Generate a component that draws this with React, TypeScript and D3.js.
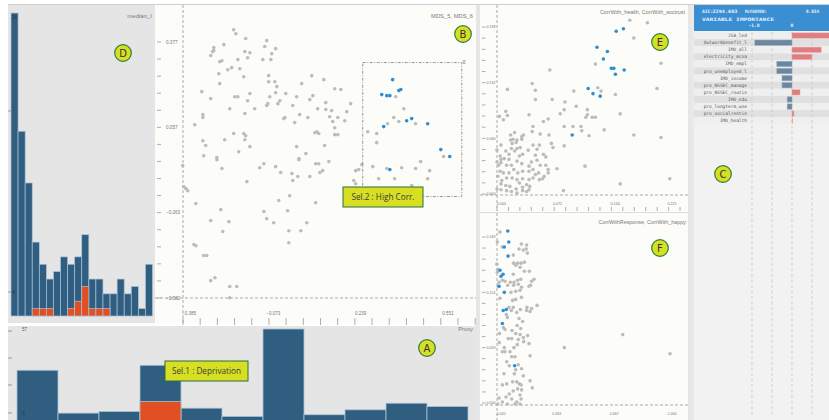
import React from "react";
import * as d3 from "d3";

const W = 829;
const H = 420;

// D: median_I histogram, 20 bins (all areas / current selection)
const medianCounts = [41, 25, 18, 10, 7, 5, 6, 8, 7, 8, 11, 5, 5, 3, 3, 5, 3, 4, 1, 7];
const medianSelected = [0, 0, 0, 1, 1, 1, 0, 0, 1, 2, 4, 1, 1, 1, 0, 0, 0, 0, 0, 0];
const medianAxisLabels = ["28", "4"];

// A: Proxy histogram, 11 bins
const proxyCounts = [32, 6, 7, 35, 9, 4, 57, 5, 8, 12, 10];
const proxySelected = [0, 0, 0, 13, 0, 0, 0, 0, 0, 0, 0];
const proxyAxisLabels = ["57", "6"];

// C: variable importance
const varNames = [
  "JSA_led", "Outworkbenefit_l", "IMD_all", "electricity_mcoa", "IMD_empl",
  "pro_unemployed_l", "IMD_income", "pro_NSSEC_manage", "pro_NSSEC_routin",
  "IMD_edu", "pro_longterm_une", "pro_socialrentin", "IMD_health",
];
const varImportance = [1.05, -0.93, 0.73, 0.5, -0.38, -0.38, -0.25, -0.25, 0.2, -0.12, -0.12, 0.05, 0.01];
const importanceGrid = [-1, -0.5, 0, 0.5];

// B: MDS_5, MDS_6
const mdsTicksX = [-0.385, -0.073, 0.239, 0.551];
const mdsTicksY = [0.377, 0.057, -0.263, -0.582];
const mdsBrush = [[0.257, 0.300], [0.611, -0.202]];
const mdsSel = [
  [0.364, 0.236], [0.325, 0.180], [0.343, 0.176], [0.354, 0.176], [0.386, 0.195], [0.393, 0.199],
  [0.332, 0.060], [0.414, 0.082], [0.432, 0.090], [0.489, 0.071], [0.536, -0.026], [0.568, -0.052], [0.354, -0.101],
];
const mdsGray = [
  [-0.204, 0.423], [-0.196, 0.408], [-0.161, 0.390], [-0.086, 0.382], [-0.239, 0.367], [-0.275, 0.356], [-0.275, 0.345],
  [-0.279, 0.341], [-0.286, 0.326], [-0.164, 0.341], [-0.146, 0.337], [-0.093, 0.360], [-0.054, 0.352], [-0.068, 0.333],
  [-0.246, 0.307], [-0.254, 0.303], [-0.189, 0.311], [-0.154, 0.318], [-0.100, 0.311], [-0.071, 0.311], [-0.257, 0.258],
  [-0.225, 0.273], [-0.211, 0.281], [-0.182, 0.277], [-0.168, 0.247], [-0.254, 0.221], [-0.318, 0.191], [-0.079, 0.251],
  [-0.079, 0.228], [-0.057, 0.228], [-0.050, 0.210], [0.039, 0.221], [0.118, 0.236], [0.075, 0.251], [-0.200, 0.172],
  [-0.189, 0.172], [-0.146, 0.184], [-0.154, 0.157], [-0.286, 0.165], [-0.054, 0.187], [-0.018, 0.184], [-0.075, 0.172],
  [-0.039, 0.157], [-0.046, 0.146], [-0.082, 0.146], [-0.086, 0.139], [0.021, 0.172], [0.068, 0.161], [0.079, 0.176],
  [0.007, 0.139], [0.157, 0.202], [0.179, 0.199], [0.125, 0.150], [0.214, 0.146], [-0.218, 0.127], [-0.164, 0.109],
  [-0.129, 0.127], [0.096, 0.127], [0.125, 0.124], [0.146, 0.120], [0.200, 0.116], [-0.314, 0.105], [-0.314, 0.094],
  [-0.343, 0.067], [-0.021, 0.094], [-0.025, 0.090], [0.032, 0.105], [0.061, 0.094], [0.139, 0.097], [0.168, 0.094],
  [0.150, 0.079], [0.193, 0.082], [0.157, 0.056], [0.014, 0.075], [-0.204, 0.034], [-0.168, 0.034], [-0.161, 0.026],
  [-0.164, 0.011], [-0.236, 0.011], [0.086, 0.037], [0.093, 0.041], [0.100, 0.034], [0.157, 0.030], [0.168, 0.030],
  [-0.314, 0.007], [-0.304, -0.011], [-0.146, -0.015], [-0.186, -0.034], [0.021, -0.015], [0.121, -0.011], [0.054, -0.041],
  [-0.311, -0.049], [-0.264, -0.056], [0.029, -0.060],
  [0.375, 0.172], [0.404, 0.127], [0.368, 0.094], [0.386, 0.079], [0.346, 0.071], [0.446, 0.071], [0.275, 0.041],
  [0.307, 0.034], [0.307, 0.000], [0.546, -0.052],
  [-0.386, -0.086], [-0.264, -0.064], [-0.246, -0.097], [-0.111, -0.094], [-0.096, -0.079], [-0.054, -0.090], [0.029, -0.064],
  [0.089, -0.079], [0.100, -0.079], [0.136, -0.071], [-0.036, -0.112], [0.004, -0.116], [0.025, -0.127], [0.007, -0.142],
  [0.068, -0.127], [0.104, -0.112], [0.114, -0.105], [0.232, -0.105], [0.243, -0.101], [0.254, -0.082], [-0.157, -0.146],
  [-0.382, -0.165], [-0.375, -0.172], [-0.368, -0.180], [0.225, -0.142], [0.232, -0.154], [-0.004, -0.199], [-0.043, -0.217],
  [0.089, -0.225], [-0.339, -0.228], [-0.250, -0.251], [-0.011, -0.255], [-0.096, -0.258], [-0.086, -0.285], [-0.061, -0.300],
  [-0.286, -0.292], [-0.221, -0.296], [0.057, -0.300], [-0.243, -0.333], [-0.007, -0.330], [0.036, -0.330], [-0.007, -0.375],
  [-0.346, -0.382], [-0.339, -0.386], [-0.311, -0.423], [-0.300, -0.423], [-0.271, -0.506], [-0.286, -0.517], [-0.218, -0.539],
  [-0.193, -0.539], [-0.218, -0.581],
  [0.293, -0.090], [0.343, -0.097], [0.396, -0.094], [0.446, -0.097], [0.496, -0.105], [0.464, -0.071], [0.314, -0.135],
  [0.371, -0.135], [0.432, -0.161], [0.489, -0.135],
];

// E: CorrWith_health, CorrWith_soctrust
const healthTicksX = [0, 0.072, 0.144, 0.215];
const healthTicksY = [0.198, 0.132, 0.066, 0];
const healthSel = [
  [0.149, 0.193], [0.158, 0.196], [0.125, 0.174], [0.138, 0.169], [0.133, 0.160], [0.143, 0.149], [0.146, 0.149],
  [0.159, 0.147], [0.148, 0.142], [0.114, 0.125], [0.120, 0.119], [0.129, 0.116], [0.094, 0.070],
];
const healthGray = [
  [0.166, 0.206], [0.188, 0.203], [0.171, 0.185], [0.205, 0.155], [0.200, 0.125], [0.171, 0.070], [0.205, 0.067],
  [0.216, 0.018], [0.154, 0.012], [0.154, 0.095], [0.148, 0.118], [0.123, 0.154], [0.130, 0.122], [0.126, 0.126],
  [0.110, 0.033], [0.083, 0.004], [0.134, 0.076], [0.066, 0.147], [0.044, 0.131], [0.048, 0.123], [0.013, 0.124],
  [0.048, 0.112], [0.069, 0.112], [0.096, 0.122], [0.085, 0.109], [0.099, 0.104], [0.113, 0.100], [0.113, 0.094],
  [0.111, 0.091], [0.119, 0.091], [0.123, 0.091], [0.079, 0.095], [0.084, 0.100], [0.040, 0.094], [0.013, 0.093],
  [0.011, 0.098], [0.003, 0.092], [0.008, 0.088], [0.064, 0.089], [0.058, 0.086], [0.084, 0.080], [0.095, 0.080],
  [0.105, 0.080], [0.106, 0.075], [0.044, 0.074], [0.065, 0.070], [0.115, 0.069], [0.084, 0.057], [0.075, 0.030],
  [0.070, 0.055], [0.068, 0.060],
  [0.033, 0.070], [0.031, 0.068], [0.020, 0.065], [0.025, 0.064], [0.017, 0.064], [0.019, 0.060], [0.024, 0.061],
  [0.005, 0.058], [0.029, 0.055], [0.018, 0.054], [0.025, 0.054], [0.011, 0.051], [0.022, 0.051], [0.045, 0.058],
  [0.053, 0.058], [0.039, 0.052], [0.048, 0.046], [0.058, 0.047], [0.061, 0.044], [0.032, 0.047], [0.028, 0.045],
  [0.015, 0.047], [0.004, 0.045], [0.000, 0.052], [0.000, 0.038], [0.005, 0.037], [0.012, 0.034], [0.002, 0.034],
  [0.018, 0.034], [0.015, 0.041], [0.009, 0.042], [0.005, 0.041], [0.025, 0.039], [0.031, 0.036], [0.043, 0.038],
  [0.040, 0.033], [0.050, 0.040], [0.054, 0.034], [0.061, 0.034], [0.064, 0.029], [0.064, 0.025], [0.052, 0.025],
  [0.045, 0.029], [0.040, 0.027], [0.032, 0.027], [0.026, 0.025], [0.021, 0.029], [0.015, 0.025], [0.008, 0.025],
  [0.004, 0.027], [0.001, 0.021], [0.006, 0.016], [0.012, 0.019], [0.019, 0.019], [0.025, 0.017], [0.028, 0.013],
  [0.032, 0.018], [0.040, 0.017], [0.045, 0.019], [0.053, 0.017], [0.057, 0.018], [0.048, 0.023], [0.059, 0.021],
  [0.037, 0.011], [0.041, 0.009], [0.032, 0.008], [0.024, 0.006], [0.016, 0.009], [0.011, 0.010], [0.005, 0.012],
  [0.000, 0.006], [0.005, 0.005], [0.012, 0.004], [0.018, 0.003], [0.025, 0.001], [0.032, 0.004], [0.040, 0.005],
  [0.037, 0.003], [0.022, 0.073], [0.017, 0.070], [0.031, 0.065], [0.054, 0.071], [0.050, 0.053], [0.045, 0.080],
];

// F: CorrWithResponse, CorrWith_happy
const happyTicksX = [0.001, 0.334, 0.667, 1.0];
const happyTicksY = [0.169, 0.114, 0.059, 0.004];
const happySel = [
  [0.063, 0.175], [0.069, 0.164], [0.043, 0.159], [0.065, 0.150], [0.018, 0.136], [0.036, 0.132], [0.024, 0.130],
  [0.013, 0.120], [0.043, 0.114], [0.037, 0.096], [0.055, 0.097], [0.032, 0.083], [0.103, 0.041],
];
const happyGray = [
  [0.390, 0.059], [0.727, 0.072], [1.0, 0.053],
  [0.018, 0.174], [0.003, 0.164], [0.032, 0.159], [0.142, 0.162], [0.172, 0.161], [0.128, 0.157], [0.153, 0.156],
  [0.170, 0.157], [0.176, 0.153], [0.095, 0.151], [0.000, 0.142], [0.005, 0.137], [0.003, 0.134], [0.097, 0.143],
  [0.120, 0.143], [0.140, 0.143], [0.159, 0.144], [0.109, 0.141], [0.134, 0.139], [0.188, 0.135], [0.159, 0.135],
  [0.095, 0.132], [0.032, 0.126], [0.013, 0.124], [0.047, 0.125], [0.078, 0.124], [0.099, 0.124], [0.120, 0.126],
  [0.138, 0.127], [0.215, 0.127], [0.201, 0.125], [0.063, 0.121], [0.097, 0.121], [0.124, 0.122], [0.143, 0.119],
  [0.186, 0.120], [0.195, 0.121], [0.009, 0.120], [0.082, 0.114], [0.109, 0.115], [0.134, 0.116], [0.018, 0.108],
  [0.091, 0.106], [0.109, 0.107], [0.142, 0.109], [0.232, 0.101], [0.174, 0.099], [0.201, 0.098], [0.192, 0.095],
  [0.172, 0.096], [0.136, 0.097], [0.115, 0.094], [0.095, 0.099], [0.070, 0.099], [0.084, 0.096], [0.128, 0.088],
  [0.149, 0.085], [0.061, 0.089], [0.055, 0.092], [0.038, 0.079], [0.117, 0.081], [0.138, 0.078], [0.047, 0.077],
  [0.088, 0.076], [0.109, 0.073], [0.016, 0.073], [0.066, 0.068], [0.086, 0.068], [0.134, 0.072], [0.178, 0.071],
  [0.153, 0.069], [0.124, 0.067], [0.155, 0.065], [0.118, 0.062], [0.043, 0.059], [0.014, 0.064], [0.186, 0.063],
  [0.099, 0.059], [0.032, 0.055], [0.047, 0.055], [0.076, 0.055], [0.086, 0.050], [0.105, 0.050], [0.192, 0.051],
  [0.124, 0.042], [0.057, 0.045], [0.072, 0.041], [0.143, 0.038], [0.109, 0.037], [0.101, 0.033], [0.041, 0.033],
  [0.153, 0.031], [0.115, 0.025], [0.091, 0.025], [0.130, 0.023], [0.140, 0.022], [0.192, 0.026], [0.032, 0.022],
  [0.057, 0.023], [0.205, 0.019], [0.120, 0.018], [0.143, 0.017], [0.095, 0.016], [0.134, 0.012], [0.072, 0.013],
  [0.053, 0.010], [0.086, 0.008], [0.115, 0.005], [0.140, 0.008], [0.061, 0.003], [0.032, 0.005], [0.013, 0.009],
  [0.105, 0.003], [0.005, 0.003], [0.134, 0.003],
];

const BLUE_BAR = "#2f5e80";
const ORANGE = "#e24f22";
const PT_GRAY = "#bcbcbc";
const PT_BLUE = "#2b8fd8";
const CREAM = "#fcfcf8";
const PANEL = "#e5e5e5";
const LABEL = "#7a7a7a";
const FONT = "'Liberation Sans', Arial, sans-serif";

function Badge({ x, y, t }: { x: number; y: number; t: string }) {
  return (
    <g>
      <circle cx={x} cy={y} r={8.3} fill="#d6df22" stroke="#2f7d3c" strokeWidth={1.2} />
      <text x={x} y={y + 3.6} textAnchor="middle" fontSize={10} fontFamily="'DejaVu Sans', sans-serif" fill="#333">{t}</text>
    </g>
  );
}

function SelBox({ x, y, w, h, t }: { x: number; y: number; w: number; h: number; t: string }) {
  return (
    <g>
      <rect x={x} y={y} width={w} height={h} fill="#d6df22" stroke="#2f6d3c" strokeWidth={1} />
      <text x={x + w / 2} y={y + h / 2 + 3} textAnchor="middle" fontSize={8.2} fontFamily="'Open Sans', sans-serif" fill="#3a3a3a">{t}</text>
    </g>
  );
}

export default function App() {
  // D
  const xD = d3.scaleLinear().domain([0, medianCounts.length]).range([11, 152.5]);
  const yD = d3.scaleLinear().domain([0, 41]).range([316, 13]);
  // A
  const xA = d3.scaleLinear().domain([0, proxyCounts.length]).range([17, 468]);
  const yA = d3.scaleLinear().domain([0, 57]).range([423, 329]);
  // B
  const xB = d3.scaleLinear().domain([-0.385, 0.551]).range([183, 445]);
  const yB = d3.scaleLinear().domain([-0.582, 0.377]).range([298, 42]);
  // E
  const xE = d3.scaleLinear().domain([0, 0.215]).range([497, 669]);
  const yE = d3.scaleLinear().domain([0, 0.198]).range([194, 27]);
  // F
  const xF = d3.scaleLinear().domain([0.001, 1.0]).range([497, 670]);
  const yF = d3.scaleLinear().domain([0.004, 0.169]).range([403, 237]);
  // C
  const xC = d3.scaleLinear().domain([-1, 0]).range([752, 792]);
  const rowH = 7.1;
  const rowY0 = 32;

  const bMinorY = d3.range(16).map((i) => -0.582 + (i * 0.959) / 15);
  const bMinorX = d3.range(18).map((i) => -0.385 + i * 0.0614);
  const eMinorY = d3.range(16).map((i) => i * 0.0132);
  const eMinorX = d3.range(17).map((i) => i * 0.0143);
  const fMinorY = d3.range(16).map((i) => 0.004 + i * 0.011);
  const fmt = d3.format(".3f");

  const dot = (pts: number[][], sx: any, sy: any, fill: string, key: string) =>
    pts.map((p, i) => <circle key={key + i} cx={sx(p[0])} cy={sy(p[1])} r={1.8} fill={fill} />);

  return (
    <svg width={W} height={H} style={{ position: "absolute", left: 0, top: 0, display: "block" }} fontFamily={FONT}>
      <rect x={0} y={0} width={W} height={H} fill="#fff" />
      <line x1={8} x2={W} y1={4.5} y2={4.5} stroke="#cfcfcf" />

      {/* panel D */}
      <rect x={8} y={5} width={147} height={318} fill={PANEL} />
      {medianCounts.map((c, i) => (
        <rect key={"d" + i} x={xD(i)} y={yD(c)} width={xD(i + 1) - xD(i)} height={yD(0) - yD(c)} fill={BLUE_BAR} stroke="#a9c2d6" strokeWidth={0.7} />
      ))}
      {medianSelected.map((c, i) =>
        c > 0 ? <rect key={"ds" + i} x={xD(i)} y={yD(c)} width={xD(i + 1) - xD(i)} height={yD(0) - yD(c)} fill={ORANGE} stroke="#a9c2d6" strokeWidth={0.7} /> : null
      )}
      <line x1={8} x2={11} y1={111} y2={111} stroke="#999" />
      <line x1={8} x2={11} y1={292} y2={292} stroke="#999" />
      <text x={12} y={19} fontSize={4.5} fill="#333">{medianAxisLabels[0]}</text>
      <text x={12.5} y={293.5} fontSize={4.5} fill="#333">{medianAxisLabels[1]}</text>
      <text x={152} y={18} textAnchor="end" fontSize={6} fill={LABEL}>median_I</text>
      <Badge x={123} y={53} t="D" />

      {/* panel B */}
      <rect x={155} y={5} width={321} height={318} fill={CREAM} />
      {bMinorY.map((v, i) => (
        <line key={"by" + i} x1={157} x2={161} y1={yB(v)} y2={yB(v)} stroke="#999" strokeWidth={0.8} />
      ))}
      {bMinorX.map((v, i) => (
        <line key={"bx" + i} x1={xB(v)} x2={xB(v)} y1={318} y2={325} stroke="#999" strokeWidth={0.8} />
      ))}
      <line x1={xB(-0.385)} x2={xB(-0.385)} y1={5} y2={323} stroke="#aaa" strokeDasharray="3,2" />
      <line x1={155} x2={476} y1={yB(-0.582)} y2={yB(-0.582)} stroke="#aaa" strokeDasharray="3,2" />
      {mdsTicksY.map((v, i) => (
        <text key={"byl" + i} x={166} y={yB(v) + 1.6} fontSize={4.6} fill="#777">{fmt(v)}</text>
      ))}
      {mdsTicksX.map((v, i) => (
        <text key={"bxl" + i} x={i === 0 ? xB(v) - 1 : xB(v) + 3} y={315} textAnchor={i === 0 ? "start" : "middle"} fontSize={4.6} fill="#777">{fmt(v)}</text>
      ))}
      {dot(mdsGray, xB, yB, PT_GRAY, "bg")}
      {dot(mdsSel, xB, yB, PT_BLUE, "bs")}
      <rect x={xB(mdsBrush[0][0])} y={yB(mdsBrush[0][1])} width={xB(mdsBrush[1][0]) - xB(mdsBrush[0][0])} height={yB(mdsBrush[1][1]) - yB(mdsBrush[0][1])} fill="none" stroke="#8a8a8a" strokeDasharray="3,1.5,1,1.5" strokeWidth={0.9} />
      <text x={xB(mdsBrush[1][0]) + 1} y={yB(mdsBrush[0][1]) + 1} fontSize={4.5} fill="#555">0</text>
      <text x={473} y={18} textAnchor="end" fontSize={5.8} fill={LABEL}>MDS_5, MDS_6</text>
      <Badge x={463} y={34} t="B" />
      <SelBox x={343} y={187} w={80} h={20} t="Sel.2 : High Corr." />

      {/* separators */}
      <rect x={476} y={5} width={4} height={415} fill="#e6e6e6" />
      <rect x={688} y={5} width={3} height={415} fill="#e6e6e6" />

      {/* panel E */}
      <rect x={480} y={5} width={208} height={206} fill={CREAM} />
      {eMinorY.map((v, i) => (
        <line key={"ey" + i} x1={482} x2={485.5} y1={yE(v)} y2={yE(v)} stroke="#999" strokeWidth={0.8} />
      ))}
      {eMinorX.map((v, i) => (
        <line key={"ex" + i} x1={xE(v)} x2={xE(v)} y1={207} y2={211} stroke="#999" strokeWidth={0.8} />
      ))}
      <line x1={xE(0)} x2={xE(0)} y1={5} y2={211} stroke="#aaa" strokeDasharray="3,2" />
      <line x1={480} x2={688} y1={yE(0) + 1} y2={yE(0) + 1} stroke="#aaa" strokeDasharray="3,2" />
      {healthTicksY.map((v, i) => (
        <text key={"eyl" + i} x={486.5} y={yE(v) + 1.3} fontSize={3.6} fill="#777">{fmt(v)}</text>
      ))}
      {healthTicksX.map((v, i) => (
        <text key={"exl" + i} x={i === 0 ? xE(v) : xE(v) + 3} y={205} textAnchor={i === 0 ? "start" : "middle"} fontSize={3.6} fill="#777">{fmt(v)}</text>
      ))}
      {dot(healthGray, xE, yE, PT_GRAY, "eg")}
      {dot(healthSel, xE, yE, PT_BLUE, "es")}
      <text x={685} y={14} textAnchor="end" fontSize={5.4} fill={LABEL}>CorrWith_health, CorrWith_soctrust</text>
      <Badge x={660} y={42} t="E" />

      {/* panel F */}
      <line x1={480} x2={688} y1={212.5} y2={212.5} stroke="#dcdcdc" />
      <rect x={480} y={213} width={208} height={207} fill={CREAM} />
      {fMinorY.map((v, i) => (
        <line key={"fy" + i} x1={482} x2={485.5} y1={yF(v)} y2={yF(v)} stroke="#999" strokeWidth={0.8} />
      ))}
      <line x1={xF(0.001)} x2={xF(0.001)} y1={213} y2={420} stroke="#aaa" strokeDasharray="3,2" />
      <line x1={480} x2={688} y1={yF(0.004) + 2} y2={yF(0.004) + 2} stroke="#aaa" strokeDasharray="3,2" />
      {happyTicksY.map((v, i) => (
        <text key={"fyl" + i} x={486.5} y={yF(v) + 1.3} fontSize={3.6} fill="#777">{fmt(v)}</text>
      ))}
      {happyTicksX.map((v, i) => (
        <text key={"fxl" + i} x={i === 0 ? xF(v) : xF(v) + 2} y={415} textAnchor={i === 0 ? "start" : "middle"} fontSize={3.6} fill="#777">{fmt(v)}</text>
      ))}
      {dot(happyGray, xF, yF, PT_GRAY, "fg")}
      {dot(happySel, xF, yF, PT_BLUE, "fs")}
      <text x={686} y={224} textAnchor="end" fontSize={5.4} fill={LABEL}>CorrWithResponse, CorrWith_happy</text>
      <Badge x={660} y={248} t="F" />

      {/* panel C */}
      <rect x={691} y={5} width={138} height={415} fill="#f2f2f2" />
      <rect x={691} y={5} width={3} height={415} fill="#e9e9e9" />
      <rect x={694} y={5} width={135} height={26} fill="#3a8fd3" />
      <g fontFamily="'DejaVu Sans Mono', monospace" fontWeight="bold" fill="#e8f1fb" fontSize={4.6}>
        <text x={702} y={13}>AIC:</text>
        <text x={712.5} y={13} textLength={25} lengthAdjust="spacingAndGlyphs">2294.603</text>
        <text x={745} y={13} textLength={22} lengthAdjust="spacingAndGlyphs">McFADDEN:</text>
        <text x={806} y={13} textLength={13} lengthAdjust="spacingAndGlyphs">0.034</text>
        <text x={702} y={21} textLength={72} lengthAdjust="spacingAndGlyphs">VARIABLE IMPORTANCE</text>
        <text x={xC(-1) + 2} y={27} textAnchor="middle">-1.0</text>
        <text x={xC(0)} y={27} textAnchor="middle">0</text>
      </g>
      {varNames.map((n, i) => (
        <rect key={"cr" + i} x={694} y={rowY0 + i * rowH} width={135} height={rowH} fill={i % 2 === 0 ? "#efefef" : "#e0e0e0"} />
      ))}
      {importanceGrid.map((v, i) => (
        <line key={"cg" + i} x1={xC(v)} x2={xC(v)} y1={rowY0} y2={415} stroke="#cdcdcd" strokeDasharray="3,2.5" />
      ))}
      {varImportance.map((v, i) => (
        <rect key={"cb" + i} x={Math.min(xC(0), xC(v))} y={rowY0 + i * rowH + 0.9} width={Math.max(0.6, Math.abs(xC(v) - xC(0)))} height={rowH - 1.8}
          fill={v >= 0 ? "#e07d80" : "#6c879f"} stroke={v >= 0 ? "#eaa7a9" : "#97abbd"} strokeWidth={0.5} />
      ))}
      {varNames.map((n, i) => (
        <text key={"cn" + i} x={747} y={rowY0 + i * rowH + 5} textAnchor="end" fontSize={4.5} fontFamily="'DejaVu Sans Mono', monospace" fill="#555">{n}</text>
      ))}
      <Badge x={723} y={174} t="C" />

      {/* panel A */}
      <rect x={8} y={326} width={468} height={94} fill={PANEL} />
      {proxyCounts.map((c, i) => (
        <rect key={"a" + i} x={xA(i)} y={yA(c)} width={xA(i + 1) - xA(i)} height={yA(0) - yA(c)} fill={BLUE_BAR} stroke="#a9c2d6" strokeWidth={0.8} />
      ))}
      {proxySelected.map((c, i) =>
        c > 0 ? <rect key={"as" + i} x={xA(i)} y={yA(c)} width={xA(i + 1) - xA(i)} height={yA(0) - yA(c)} fill={ORANGE} stroke="#a9c2d6" strokeWidth={0.8} /> : null
      )}
      {[331, 358, 385, 413].map((y, i) => (
        <line key={"at" + i} x1={8} x2={12} y1={y} y2={y} stroke="#999" />
      ))}
      <text x={22} y={331} fontSize={4.5} fill="#555">{proxyAxisLabels[0]}</text>
      <text x={22.5} y={414.5} fontSize={4.5} fill="#333">{proxyAxisLabels[1]}</text>
      <text x={473} y={331} textAnchor="end" fontSize={5.8} fill={LABEL}>Proxy</text>
      <Badge x={427} y={348} t="A" />
      <SelBox x={165} y={361} w={83} h={20} t="Sel.1 : Deprivation" />
    </svg>
  );
}
